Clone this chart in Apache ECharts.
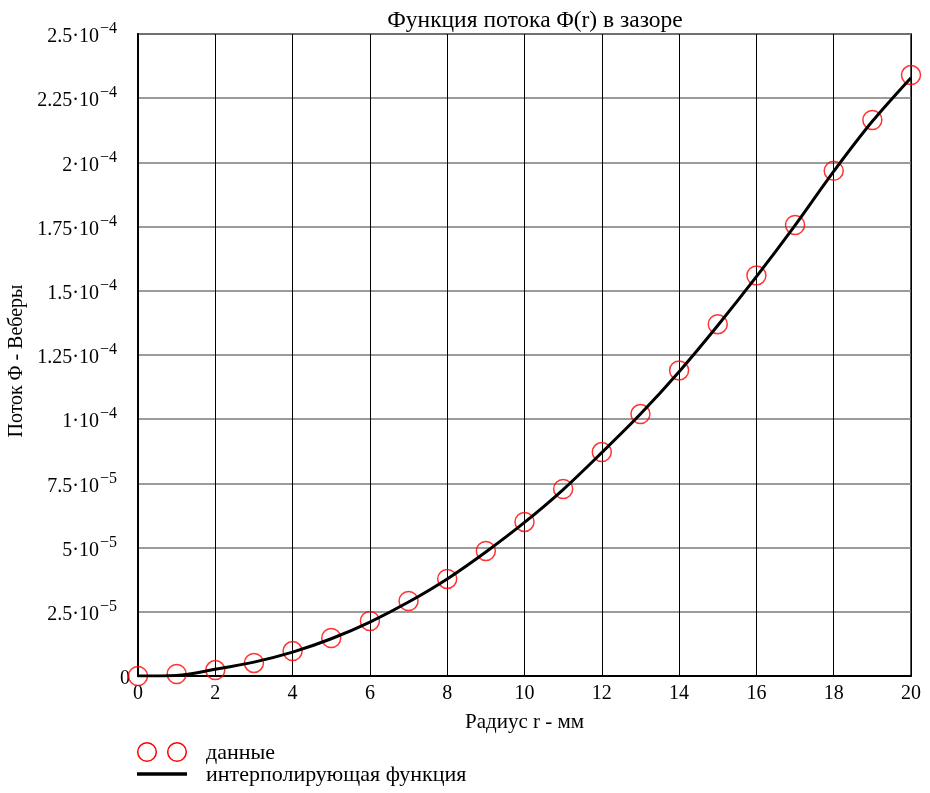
<!DOCTYPE html>
<html><head><meta charset="utf-8">
<script src="https://cdn.jsdelivr.net/npm/echarts@6/dist/echarts.min.js"></script>
<style>html,body{margin:0;padding:0;background:#fff}#c{width:930px;height:793px}</style>
</head><body><div id="c"></div>
<script>
const radius = [0,1,2,3,4,5,6,7,8,9,10,11,12,13,14,15,16,17,18,19,20];
const fluxData = [0, 0.8e-6, 2.3e-6, 5.1e-6, 9.7e-6, 1.48e-5, 2.14e-5, 2.92e-5, 3.78e-5, 4.87e-5, 6.0e-5, 7.28e-5, 8.72e-5, 1.02e-4, 1.19e-4, 1.37e-4, 1.56e-4, 1.756e-4, 1.967e-4, 2.165e-4, 2.34e-4];
const fluxCurve = [0, 0.2e-6, 2.6e-6, 5.4e-6, 9.3e-6, 1.45e-5, 2.1e-5, 2.88e-5, 3.78e-5, 4.83e-5, 5.98e-5, 7.26e-5, 8.7e-5, 1.02e-4, 1.185e-4, 1.365e-4, 1.555e-4, 1.755e-4, 1.965e-4, 2.16e-4, 2.33e-4];
const yTickMant = ['0','2.5·10','5·10','7.5·10','1·10','1.25·10','1.5·10','1.75·10','2·10','2.25·10','2.5·10'];
const yTickExp = ['','−5','−5','−5','−4','−4','−4','−4','−4','−4','−4'];
const titleText = 'Функция потока Φ(r) в зазоре';
const xName = 'Радиус r - мм';
const yName = 'Поток Φ - Веберы';
const legendNames = ['данные','интерполирующая функция'];

const F = 'Liberation Serif';
const chart = echarts.init(document.getElementById('c'));
chart.setOption({
  animation:false,
  backgroundColor:'#fff',
  title:{text:titleText,left:530,top:4,textAlign:'center',textStyle:{fontFamily:F,fontSize:23.5,fontWeight:'normal',color:'#000'}},
  grid:{left:138,right:19,top:34,bottom:117,show:true,borderColor:'#555',borderWidth:2,backgroundColor:'transparent',outerBoundsMode:'none',containLabel:false},
  xAxis:{type:'value',min:0,max:20,interval:2,
    name:xName,nameLocation:'middle',nameGap:36,nameTextStyle:{fontFamily:F,fontSize:21,color:'#000'},
    axisLine:{lineStyle:{color:'#000',width:2}},axisTick:{show:false},
    axisLabel:{fontFamily:F,fontSize:20,color:'#000',margin:8},
    splitLine:{show:true,lineStyle:{color:'#000',width:1}}},
  yAxis:{type:'value',min:0,max:2.5e-4,interval:2.5e-5,
    name:yName,nameLocation:'middle',nameGap:110,nameTextStyle:{fontFamily:F,fontSize:20,color:'#000',padding:[0,12,0,0]},
    axisLine:{lineStyle:{color:'#000',width:2}},axisTick:{show:false},
    axisLabel:{margin:8,formatter:function(v){const i=Math.round(v/2.5e-5);if(i===0)return '{m|0}';return '{m|'+yTickMant[i]+'}{e|'+yTickExp[i]+'}';},
      rich:{m:{fontFamily:F,fontSize:20,color:'#000',padding:[6,0,0,0]},e:{fontFamily:F,fontSize:16,color:'#000',padding:[0,13,10,1]}}},
    splitLine:{show:true,lineStyle:{color:'#7a7a7a',width:1.5}}},
  series:[
    {type:'scatter',data:radius.map((r,i)=>[r,fluxData[i]]),symbol:'circle',symbolSize:19,
      itemStyle:{color:'rgba(0,0,0,0)',borderColor:'#ff0000',borderWidth:1.5},z:2},
    {type:'line',data:radius.map((r,i)=>[r,fluxCurve[i]]),smooth:0.3,symbol:'none',
      lineStyle:{color:'#000',width:3},z:3}
  ],
  graphic:[
    {type:'circle',shape:{cx:147,cy:752,r:9.3},style:{fill:'none',stroke:'#ff0000',lineWidth:1.5}},
    {type:'circle',shape:{cx:177,cy:752,r:9.3},style:{fill:'none',stroke:'#ff0000',lineWidth:1.5}},
    {type:'text',x:206,y:753,style:{text:legendNames[0],font:'22px "Liberation Serif"',fill:'#000',textVerticalAlign:'middle'}},
    {type:'line',shape:{x1:137,y1:774,x2:187,y2:774},style:{stroke:'#000',lineWidth:3.5}},
    {type:'text',x:206,y:775,style:{text:legendNames[1],font:'22px "Liberation Serif"',fill:'#000',textVerticalAlign:'middle'}}
  ]
});
</script></body></html>
